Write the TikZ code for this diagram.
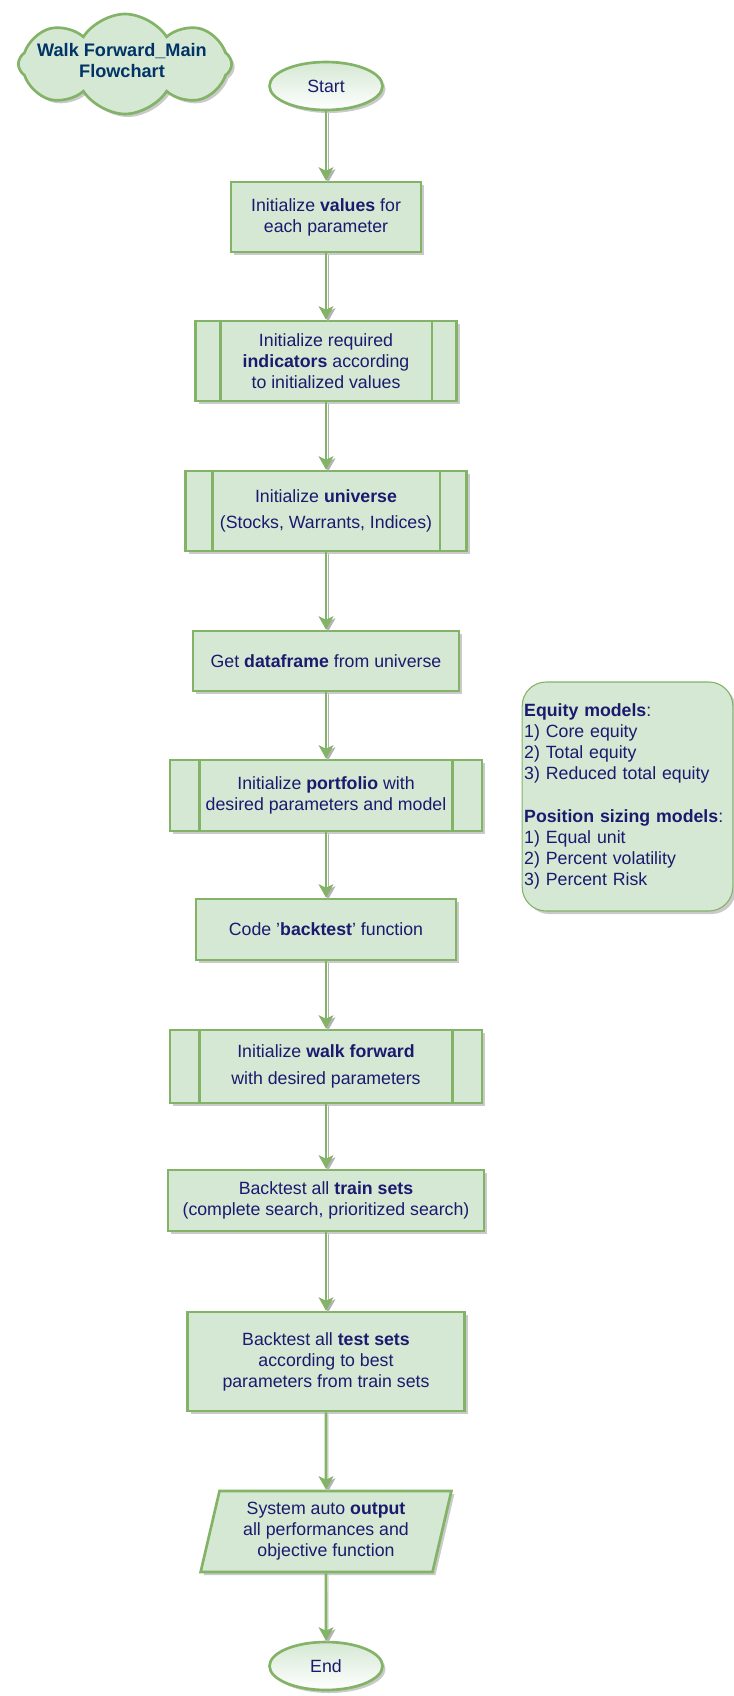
\documentclass[tikz,border=0pt]{standalone}
\usepackage{fontspec}
\setmainfont{Liberation Sans}
\usepackage{tikz}
\usetikzlibrary{shapes.geometric,shapes.symbols,shadows,arrows.meta}

\definecolor{greenfill}{HTML}{D5E8D4}
\definecolor{greenline}{HTML}{82B366}
\definecolor{navytext}{HTML}{1A1A6E}
\definecolor{titletext}{HTML}{003366}

\tikzset{
	boxshadow/.style={drop shadow={shadow xshift=2.25pt,shadow yshift=-2.25pt,fill=black!60,opacity=0.35}},
	basebox/.style={draw=greenline, line width=2pt, fill=greenfill, boxshadow, text=navytext,
		align=center, font=\fontsize{13.3}{15.75}\selectfont},
	procbox/.style={basebox, rectangle},
	subproc/.style={basebox, rectangle},
	terminal/.style={basebox, ellipse, top color=greenfill, bottom color=white,
		minimum width=84.75pt, minimum height=36pt},
	iobox/.style={basebox, trapezium, trapezium left angle=77, trapezium right angle=103,
		trapezium stretches=true},
	notebox/.style={rectangle, rounded corners=18pt, draw=greenline, line width=0.8pt, fill=greenfill,
		boxshadow, text=navytext, align=left, inner xsep=1.5pt, font=\fontsize{13.3}{15.9}\selectfont},
	title/.style={cloud, cloud puffs=8, cloud puff arc=115, cloud ignores aspect, draw=greenline,
		line width=2pt, fill=greenfill, boxshadow},
	titlelabel/.style={text=titletext, align=center, font=\bfseries\fontsize{13.6}{15.75}\selectfont},
	flowarrow/.style={draw=greenline, line width=2pt, -{Stealth[length=10pt,width=11pt,inset=2.5pt]},
		preaction={draw=black!30, transform canvas={xshift=1.5pt,yshift=-1.5pt}}}
}

\begin{document}
\begin{tikzpicture}[x=0.75pt,y=-0.75pt]
	\useasboundingbox (0,0) rectangle (734,1696);

	% title and side note
	\node[title, minimum width=160pt, minimum height=75pt] (heading) at (125,64) {};
	\node[titlelabel] (headtext) at (122,61) {Walk Forward\_Main\\Flowchart};
	\node[notebox, text width=155pt, minimum height=171.75pt] (models) at (627.5,796.5)
		{\textbf{Equity models}:\\1) Core equity\\2) Total equity\\3) Reduced total equity\\[15.9pt]
		\textbf{Position sizing models}:\\1) Equal unit\\2) Percent volatility\\3) Percent Risk};

	% main flow
	\node[terminal] (start) at (326,86) {Start};
	\node[procbox, minimum width=142.5pt, minimum height=52.5pt] (values) at (326,217)
		{Initialize \textbf{values} for\\each parameter};
	\node[subproc, minimum width=195.75pt, minimum height=60pt] (indic) at (326,361)
		{Initialize required\\\textbf{indicators} according\\to initialized values};
	\node[subproc, minimum width=210.75pt, minimum height=60pt] (univ) at (326,511)
		{Initialize \textbf{universe}\\[4pt](Stocks, Warrants, Indices)};
	\node[procbox, minimum width=199.5pt, minimum height=45pt] (dframe) at (326,661)
		{Get \textbf{dataframe} from universe};
	\node[subproc, minimum width=234pt, minimum height=53.25pt] (portf) at (326,795.5)
		{Initialize \textbf{portfolio} with\\desired parameters and model};
	\node[procbox, minimum width=195pt, minimum height=45.75pt] (bktest) at (326,929.5)
		{Code '\textbf{backtest}' function};
	\node[subproc, minimum width=234pt, minimum height=54.75pt] (walkfw) at (326,1066.5)
		{Initialize \textbf{walk forward}\\[4pt]with desired parameters};
	\node[procbox, minimum width=237pt, minimum height=45.75pt] (train) at (326,1200.5)
		{Backtest all \textbf{train sets}\\(complete search, prioritized search)};
	\node[procbox, minimum width=207.75pt, minimum height=74.25pt] (test) at (326,1361.5)
		{Backtest all \textbf{test sets}\\according to best\\parameters from train sets};
	\node[iobox, minimum width=188.25pt, minimum height=60.75pt] (output) at (326,1531.5)
		{System auto \textbf{output}\\all performances and\\objective function};
	\node[terminal] (stop) at (326,1666) {End};

	% side bars of the subprocess boxes
	\foreach \n/\d in {indic/19.5pt, univ/21pt, portf/23pt, walkfw/23pt} {
		\draw[greenline, line width=2pt] ([xshift=\d]\n.north west) -- ([xshift=\d]\n.south west);
		\draw[greenline, line width=2pt] ([xshift=-\d]\n.north east) -- ([xshift=-\d]\n.south east);
	}

	% connectors
	\foreach \a/\b in {start/values, values/indic, indic/univ, univ/dframe, dframe/portf,
		portf/bktest, bktest/walkfw, walkfw/train, train/test, test/output, output/stop}
		\draw[flowarrow] (\a) -- (\b);
\end{tikzpicture}
\end{document}
